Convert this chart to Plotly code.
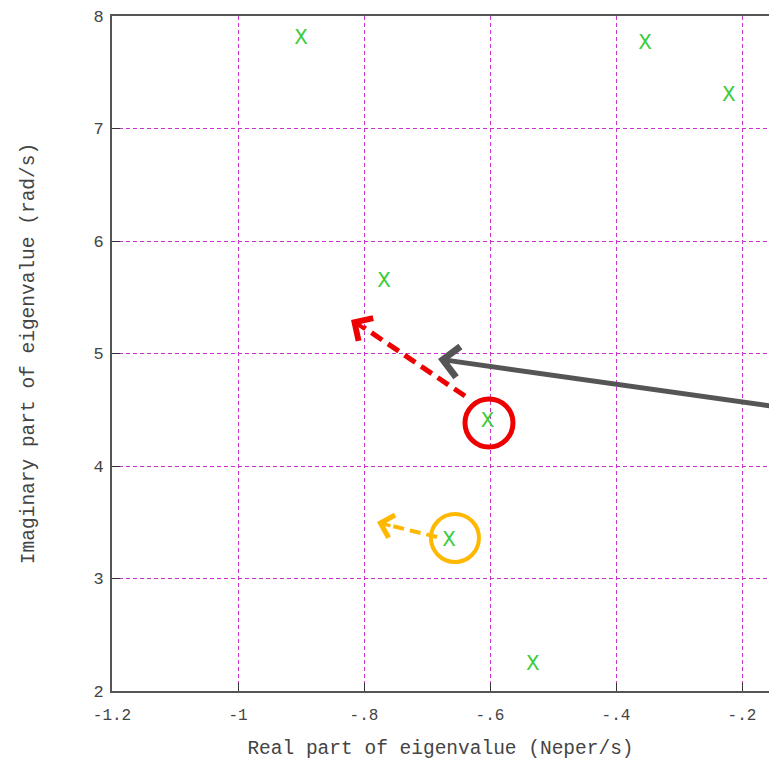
import plotly.graph_objects as go

# Eigenvalue data (real, imaginary)
real_part = [-0.900, -0.354, -0.221, -0.768, -0.604, -0.665, -0.532]
imag_part = [7.80, 7.76, 7.29, 5.64, 4.40, 3.34, 2.24]

x_tick_vals = [-1.2, -1.0, -0.8, -0.6, -0.4, -0.2]
x_tick_text = ["-1.2", "-1", "-.8", "-.6", "-.4", "-.2"]
y_tick_vals = [2, 3, 4, 5, 6, 7, 8]

FONT = "Liberation Mono, DejaVu Sans Mono, monospace"
GRID = "#cc33cc"
RED = "#ee0000"
YEL = "#ffb800"

fig = go.Figure()
fig.add_trace(go.Scatter(
    x=real_part, y=imag_part, mode="text", text=["X"] * len(real_part),
    textfont=dict(family=FONT, size=22, color="#3ccc3c"),
    textposition="middle center", showlegend=False, hoverinfo="skip",
))

# highlighted eigenvalues (circle centres)
red_pt = (-0.6016, 4.382)
yel_pt = (-0.6556, 3.36)

shapes = [
    dict(type="circle", xref="x", yref="y", xsizemode="pixel", ysizemode="pixel",
         xanchor=red_pt[0], yanchor=red_pt[1], x0=-24, x1=24, y0=-24, y1=24,
         line=dict(color=RED, width=5), layer="above"),
    dict(type="circle", xref="x", yref="y", xsizemode="pixel", ysizemode="pixel",
         xanchor=yel_pt[0], yanchor=yel_pt[1], x0=-24, x1=24, y0=-24, y1=24,
         line=dict(color=YEL, width=4), layer="above"),
]

# dashed arrows
red_tail = (-0.6397, 4.622)
red_tip = (-0.8206, 5.298)
yel_tail = (-0.6841, 3.369)
yel_tip = (-0.7794, 3.502)
shapes.append(dict(type="line", xref="x", yref="y", x0=red_tail[0], y0=red_tail[1],
                   x1=red_tip[0] + 0.02, y1=red_tip[1] - 0.066,
                   line=dict(color=RED, width=5, dash="13px,7px"), layer="above"))
shapes.append(dict(type="line", xref="x", yref="y", x0=yel_tail[0], y0=yel_tail[1],
                   x1=yel_tip[0] + 0.02, y1=yel_tip[1] - 0.03,
                   line=dict(color=YEL, width=4, dash="11px,6px"), layer="above"))

gray_tail = (-0.10, 4.49)
gray_tip = (-0.6825, 4.951)

annotations = [
    dict(x=red_tip[0], y=red_tip[1], ax=14, ay=9,
         xref="x", yref="y", text="", font=dict(size=1), borderpad=0, showarrow=True,
         arrowhead=4, arrowsize=1.3, arrowwidth=4, arrowcolor=RED),
    dict(x=yel_tip[0], y=yel_tip[1], ax=14, ay=4,
         xref="x", yref="y", text="", font=dict(size=1), borderpad=0, showarrow=True,
         arrowhead=4, arrowsize=1.3, arrowwidth=3.5, arrowcolor=YEL),
    dict(x=gray_tip[0], y=gray_tip[1], ax=gray_tail[0], ay=gray_tail[1],
         xref="x", yref="y", axref="x", ayref="y", text="", font=dict(size=1), borderpad=0,
         showarrow=True, arrowhead=4, arrowsize=1.2, arrowwidth=5, arrowcolor="#555555"),
]

fig.update_layout(
    width=769, height=762,
    margin=dict(l=112, r=0, t=16, b=71),
    paper_bgcolor="white", plot_bgcolor="white",
    font=dict(family=FONT, size=16, color="#444444"),
    shapes=shapes, annotations=annotations,
    showlegend=False,
)
fig.update_xaxes(
    range=[-1.2, -1.2 + 657 / 630], tickvals=x_tick_vals, ticktext=x_tick_text,
    automargin=False,
    showgrid=True, gridcolor=GRID, griddash="4px,3px", gridwidth=1,
    showline=True, linecolor="#555555", linewidth=2, mirror=True,
    ticks="inside", ticklen=8, tickcolor="#333333", zeroline=False,
    tickfont=dict(size=16), ticklabelstandoff=8,
    title=dict(text="Real part of eigenvalue (Neper/s)", font=dict(size=19.5), standoff=16),
)
fig.update_yaxes(
    range=[2, 8], tickvals=y_tick_vals, automargin=False,
    showgrid=True, gridcolor=GRID, griddash="4px,3px", gridwidth=1,
    showline=True, linecolor="#555555", linewidth=2,
    ticks="inside", ticklen=8, tickcolor="#333333", zeroline=False,
    tickfont=dict(size=17), ticklabelstandoff=3,
    title=dict(text="Imaginary part of eigenvalue (rad/s)", font=dict(size=19.5), standoff=54),
)

fig.write_html(
    "out.html",
    config={"displayModeBar": False},
    post_script="document.body.style.margin='0';document.body.style.overflow='hidden';",
)
